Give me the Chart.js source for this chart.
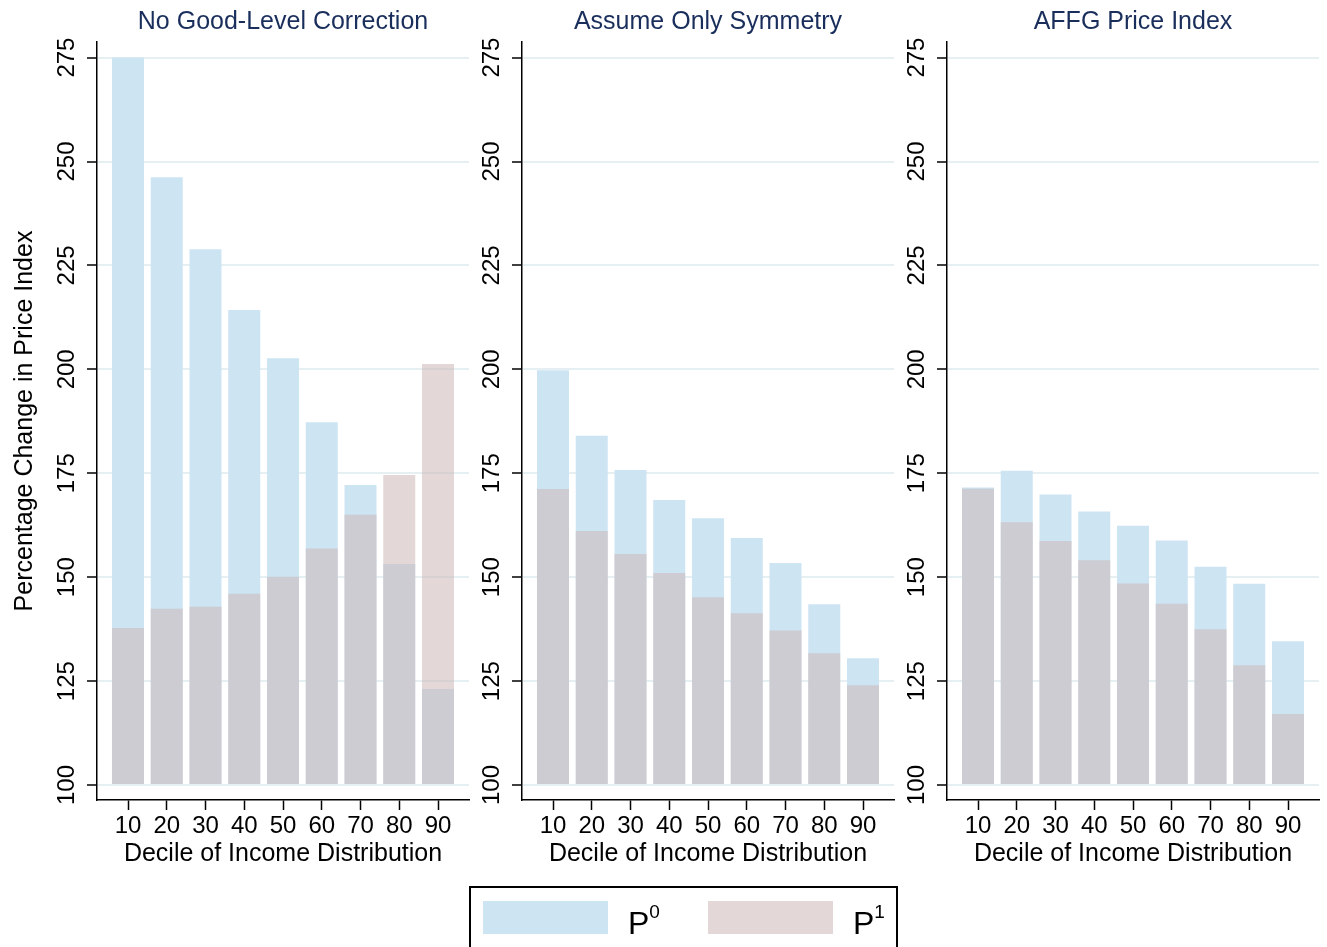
<!DOCTYPE html>
<html>
<head>
<meta charset="utf-8">
<script src="https://cdn.jsdelivr.net/npm/chart.js@4.4.0/dist/chart.umd.min.js"></script>
<style>
  body { margin: 0; background: #fff; width: 1327px; height: 947px; overflow: hidden; position: relative;
         font-family: "Liberation Sans", Arial, sans-serif; }
  .panel { position: absolute; top: 0; }
  #legend { position: absolute; left: 469px; top: 886px; width: 429px; height: 70px;
            border: 2px solid #000; box-sizing: border-box; }
  .sw { position: absolute; top: 13px; width: 125px; height: 33px; }
  .lab { position: absolute; top: 8px; font-size: 32px; line-height: 40px; color: #000; }
  .lab sup { font-size: 19px; position: relative; top: -4px; }
</style>
</head>
<body>
<canvas id="c0" class="panel" width="472" height="880" style="left:0px"></canvas>
<canvas id="c1" class="panel" width="472" height="880" style="left:425px"></canvas>
<canvas id="c2" class="panel" width="472" height="880" style="left:850px"></canvas>
<div id="legend"></div>
<script>
var deciles = [10, 20, 30, 40, 50, 60, 70, 80, 90];
var yTicks = [100, 125, 150, 175, 200, 225, 250, 275];
var panelTitles = ["No Good-Level Correction", "Assume Only Symmetry", "AFFG Price Index"];
var seriesNames = ["P0", "P1"];
var seriesSup = ["0", "1"];

// Percentage change in price index, by decile
var noCorrP0 = [275, 246.2, 228.9, 214.3, 202.7, 187.3, 172.2, 153.2, 123.1];
var noCorrP1 = [137.8, 142.4, 142.9, 146, 150.1, 156.9, 165, 174.6, 201.3];
var symP0 = [199.8, 184, 175.8, 168.6, 164.2, 159.4, 153.4, 143.5, 130.5];
var symP1 = [171.2, 161.1, 155.6, 151, 145.2, 141.3, 137.2, 131.7, 124];
var affgP0 = [171.6, 175.6, 169.9, 165.8, 162.4, 158.8, 152.5, 148.4, 134.6];
var affgP1 = [171.3, 163.2, 158.7, 154.1, 148.5, 143.6, 137.5, 128.8, 117.1];

var panels = [[noCorrP0, noCorrP1], [symP0, symP1], [affgP0, affgP1]];

var p0Color = "rgb(205, 228, 243)";
var p1Color = "rgba(204, 184, 182, 0.55)";
var navy = "#1a2e5c";

Chart.defaults.font.family = "'Liberation Sans', Arial, sans-serif";
Chart.defaults.color = "#000";

function points(vals) {
  return deciles.map(function (d, i) { return { x: d, y: vals[i] }; });
}

panels.forEach(function (series, k) {
  var ctx = document.getElementById("c" + k).getContext("2d");
  new Chart(ctx, {
    type: "bar",
    data: {
      datasets: [
        { label: seriesNames[0], data: points(series[0]), backgroundColor: p0Color, base: 100, order: 1 },
        { label: seriesNames[1], data: points(series[1]), backgroundColor: p1Color, base: 100, order: 0 },
      ],
    },
    options: {
      responsive: false,
      animation: false,
      layout: { padding: { left: 0, right: 3, top: 0, bottom: 0 } },
      datasets: { bar: { grouped: false, categoryPercentage: 1, barPercentage: 0.826 } },
      plugins: {
        legend: { display: false },
        tooltip: { enabled: false },
        title: {
          display: true,
          text: panelTitles[k],
          color: navy,
          fullSize: false,
          font: { size: 25, weight: "normal" },
          padding: { top: 7, bottom: 5 },
        },
      },
      scales: {
        x: {
          type: "linear",
          offset: false,
          min: 2,
          max: 98,
          afterBuildTicks: function (s) { s.ticks = deciles.map(function (v) { return { value: v }; }); },
          afterFit: function (s) { s.height = 80; },
          grid: { offset: false, drawOnChartArea: false, drawTicks: true, tickLength: 10, tickColor: "#000", tickWidth: 1.5 },
          border: { display: true, color: "#000", width: 1.5 },
          ticks: { font: { size: 24 }, padding: 2, maxRotation: 0, autoSkip: false },
          title: {
            display: true,
            text: "Decile of Income Distribution",
            font: { size: 25 },
            padding: { top: 0, bottom: 11 },
          },
        },
        y: {
          min: 96.4,
          max: 278.75,
          afterBuildTicks: function (s) { s.ticks = yTicks.map(function (v) { return { value: v }; }); },
          afterFit: function (s) { s.width = 97; },
          grid: { color: "#e6eff1", lineWidth: 2, tickLength: 10, tickColor: "#000", tickWidth: 1.5 },
          border: { display: true, color: "#000", width: 1.5 },
          ticks: { font: { size: 24 }, padding: 0, minRotation: 90, maxRotation: 90, crossAlign: "center" },
          title: {
            display: k === 0,
            text: "Percentage Change in Price Index",
            font: { size: 25 },
            padding: { top: 10, bottom: 0 },
          },
        },
      },
    },
  });
});

// legend box
var legend = document.getElementById("legend");
var swatchX = [12, 237];
var labelX = [157, 382];
[p0Color, p1Color].forEach(function (c, i) {
  var sw = document.createElement("div");
  sw.className = "sw";
  sw.style.left = swatchX[i] + "px";
  sw.style.background = i === 0 ? c : "rgb(227, 216, 215)";
  legend.appendChild(sw);
  var lab = document.createElement("div");
  lab.className = "lab";
  lab.style.left = labelX[i] + "px";
  lab.innerHTML = seriesNames[i].charAt(0) + "<sup>" + seriesSup[i] + "</sup>";
  legend.appendChild(lab);
});
</script>
</body>
</html>
